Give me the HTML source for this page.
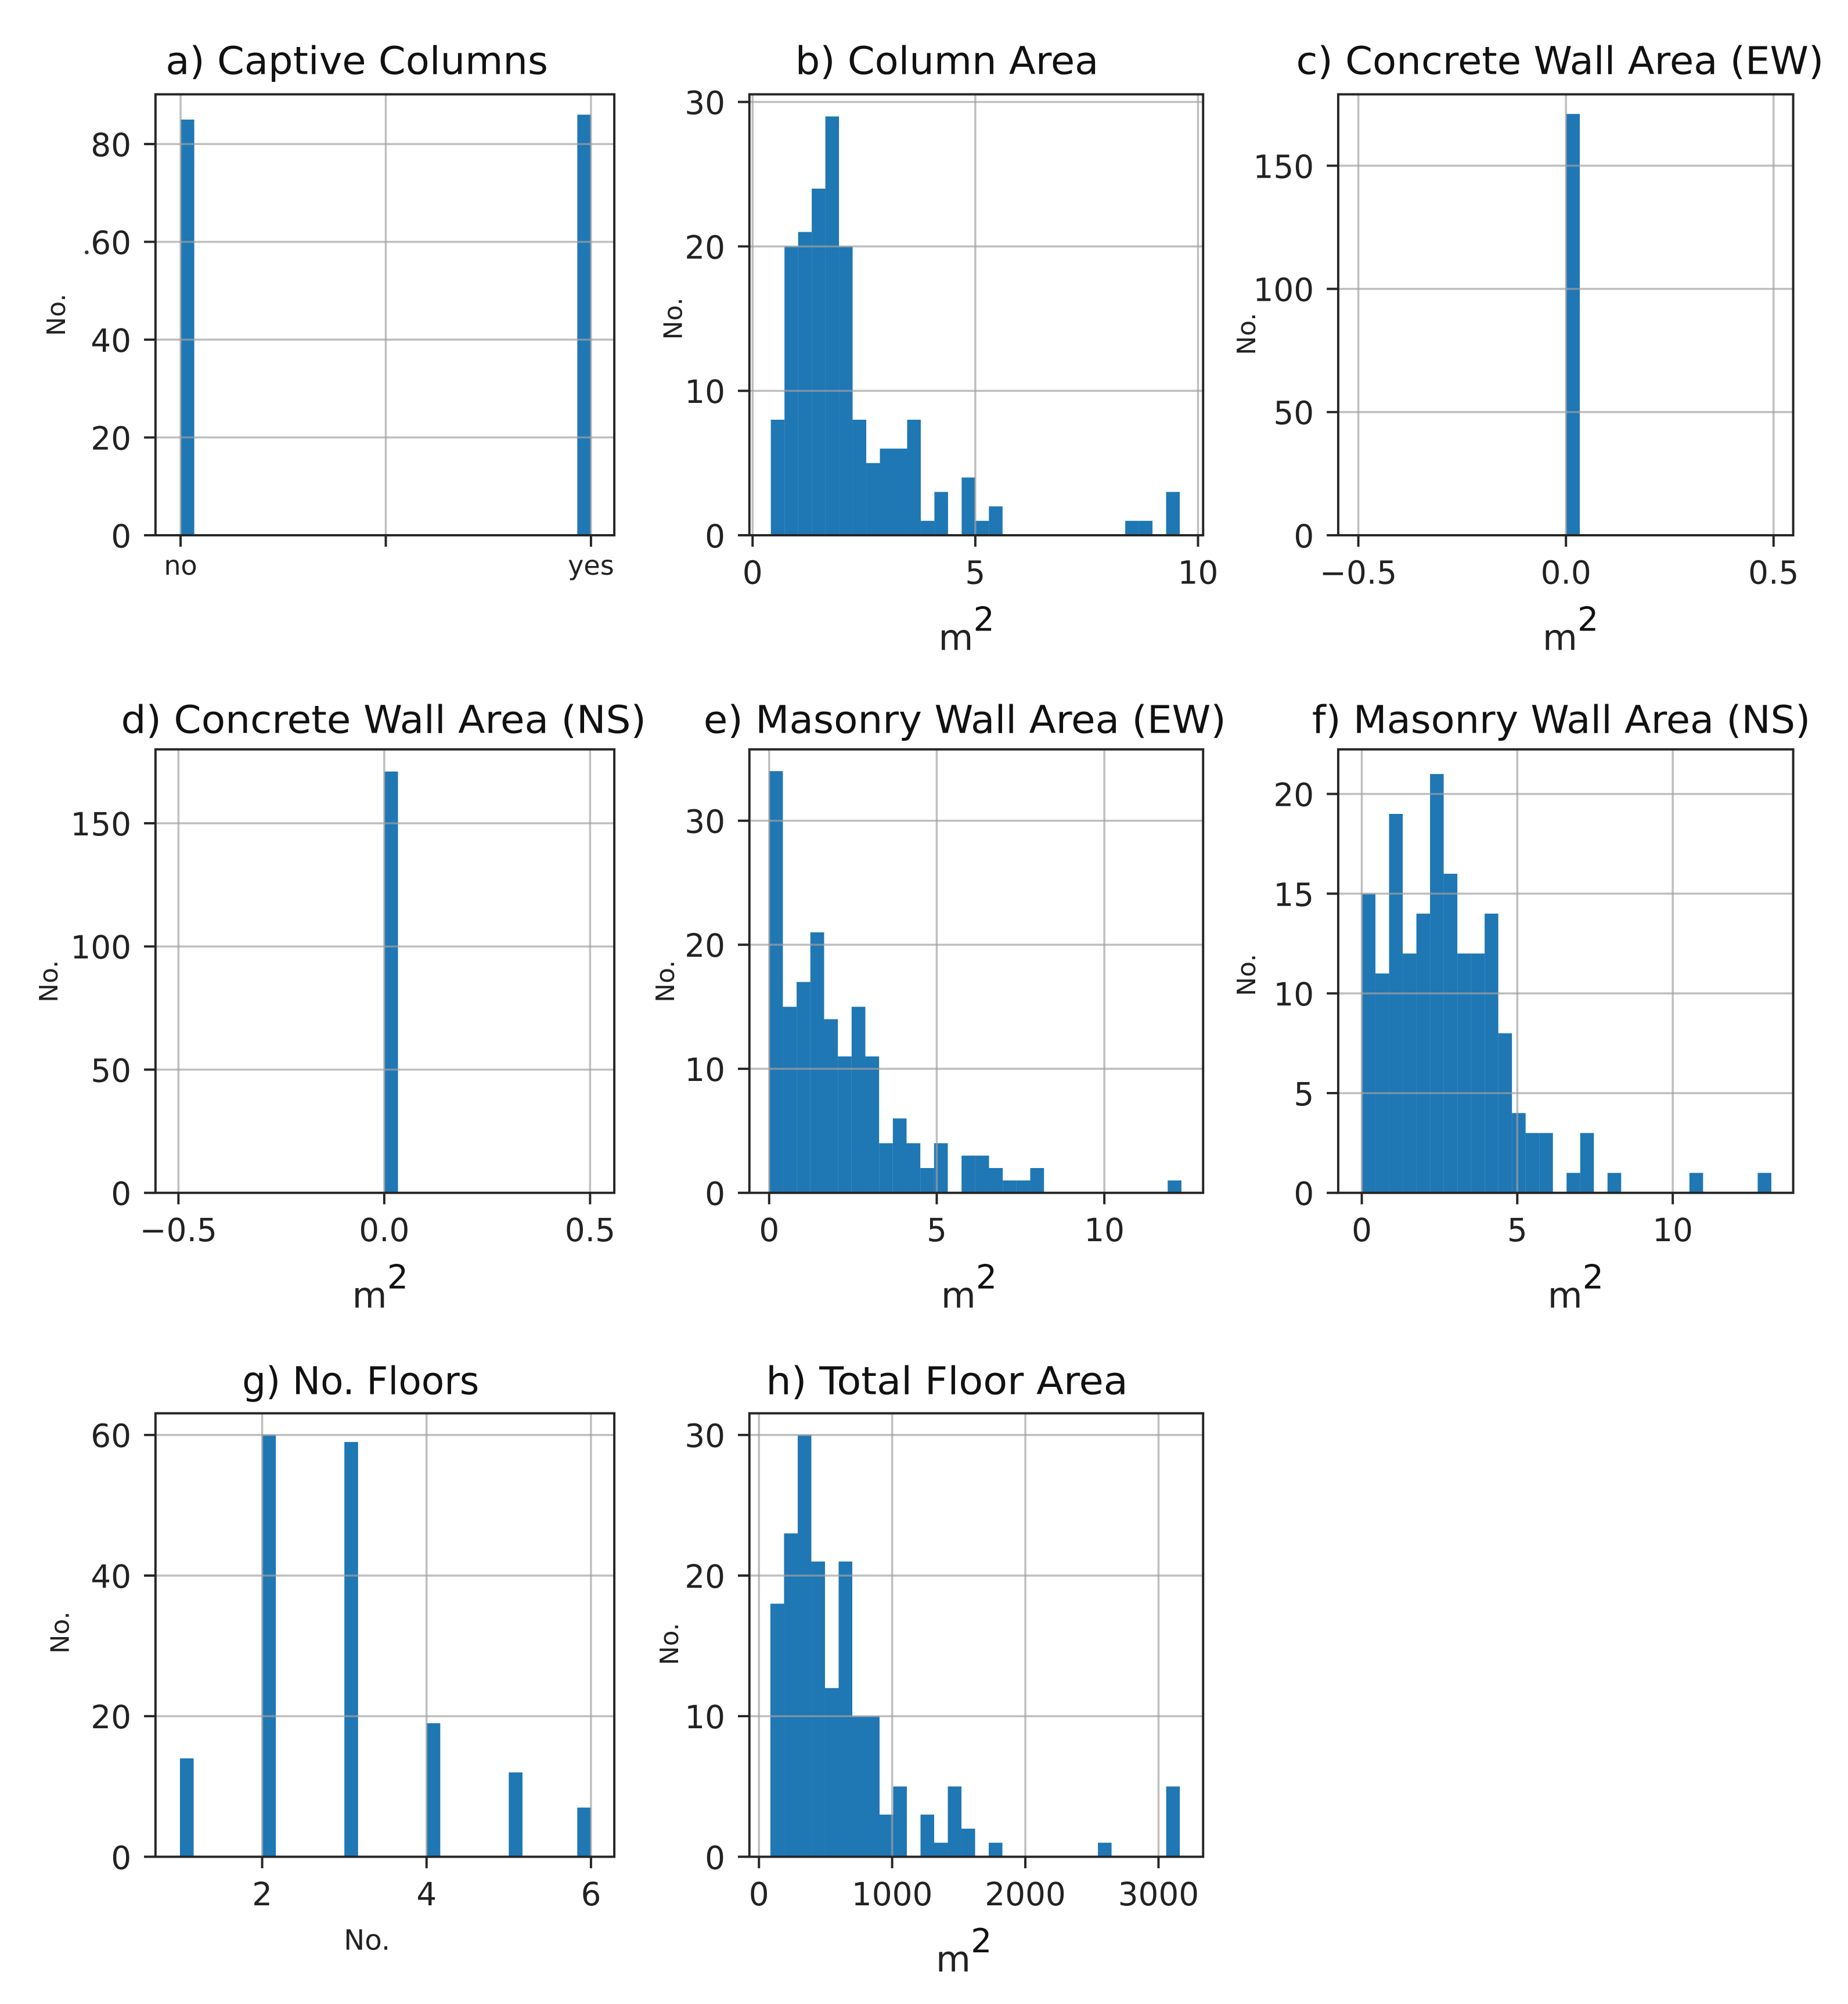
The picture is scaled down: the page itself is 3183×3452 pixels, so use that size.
<!DOCTYPE html>
<html><head><meta charset="utf-8"><title>Building histograms</title>
<style>html,body{margin:0;padding:0;background:#fff;}svg{display:block;}</style></head>
<body>
<svg id="fig" xmlns="http://www.w3.org/2000/svg" width="3183" height="3452" viewBox="0 0 1450 1572.5" font-family="'DejaVu Sans','Liberation Sans',sans-serif"></svg>
<script>
// ---- data (counts per bin, 30 bins each) ----
const aCounts = [85,0,0,0,0,0,0,0,0,0,0,0,0,0,0,0,0,0,0,0,0,0,0,0,0,0,0,0,0,86];
const bCounts = [8,20,21,24,29,20,8,5,6,6,8,1,3,0,4,1,2,0,0,0,0,0,0,0,0,0,1,1,0,3];
const cCounts = [0,0,0,0,0,0,0,0,0,0,0,0,0,0,0,171,0,0,0,0,0,0,0,0,0,0,0,0,0,0];
const dCounts = [0,0,0,0,0,0,0,0,0,0,0,0,0,0,0,171,0,0,0,0,0,0,0,0,0,0,0,0,0,0];
const eCounts = [34,15,17,21,14,11,15,11,4,6,4,2,4,0,3,3,2,1,1,2,0,0,0,0,0,0,0,0,0,1];
const fCounts = [15,11,19,12,14,21,16,12,12,14,8,4,3,3,0,1,3,0,1,0,0,0,0,0,1,0,0,0,0,1];
const gCounts = [14,0,0,0,0,0,60,0,0,0,0,0,59,0,0,0,0,0,19,0,0,0,0,0,12,0,0,0,0,7];
const hCounts = [18,23,30,21,12,21,10,10,3,5,0,3,1,5,2,0,1,0,0,0,0,0,0,0,1,0,0,0,0,5];
// value ranges of the histograms (min, max of data)
const aRange = [0,1];
const bRange = [0.41,9.59];
const cRange = [-0.5,0.5];
const dRange = [-0.5,0.5];
const eRange = [0,12.3];
const fRange = [0,13.17];
const gRange = [1,6];
const hRange = [86,3160];
// tick values
const aXTicks = [0,0.5,1];
const aXTickLabels = ['no','','yes'];
const aYTicks = [0,20,40,60,80];
const bXTicks = [0,5,10];
const bYTicks = [0,10,20,30];
const cXTicks = [-0.5,0,0.5];
const cXTickLabels = ['\u22120.5','0.0','0.5'];
const cYTicks = [0,50,100,150];
const eXTicks = [0,5,10];
const eYTicks = [0,10,20,30];
const fXTicks = [0,5,10];
const fYTicks = [0,5,10,15,20];
const gXTicks = [2,4,6];
const gYTicks = [0,20,40,60];
const hXTicks = [0,1000,2000,3000];
const hYTicks = [0,10,20,30];
const titles = ['a) Captive Columns','b) Column Area','c) Concrete Wall Area (EW)','d) Concrete Wall Area (NS)','e) Masonry Wall Area (EW)','f) Masonry Wall Area (NS)','g) No. Floors','h) Total Floor Area'];

const NS='http://www.w3.org/2000/svg';
const svg=document.getElementById('fig');
function mk(tag,parent){const e=document.createElementNS(NS,tag);parent.appendChild(e);return e;}
function lin(v0,p0,v1,p1){return v=>p0+(v-v0)*(p1-p0)/(v1-v0);}

const panels=[
 {id:'a',counts:aCounts,range:aRange,frame:[122,74,482,420],xs:lin(0,141.7,1,463.7),ys:lin(0,420,80,113),xt:aXTicks,xl:aXTickLabels,yt:aYTicks,title:titles[0],tx:280,ty:58,tw:300,ylx:44,yly:247,xlab:null,small:true},
 {id:'b',counts:bCounts,range:bRange,frame:[588,74,944,420],xs:lin(0,590.5,10,940),ys:lin(0,420,30,80),xt:bXTicks,yt:bYTicks,title:titles[1],tx:743,ty:58,tw:238,ylx:528,yly:250,xlab:'m',mx:750,my:510},
 {id:'c',counts:cCounts,range:cRange,frame:[1050,74,1407,420],xs:lin(-0.5,1065.8,0.5,1391.6),ys:lin(0,420,150,130),xt:cXTicks,xl:cXTickLabels,yt:cYTicks,title:titles[2],tx:1224,ty:58,tw:414,ylx:978,yly:262,xlab:'m',mx:1224,my:510},
 {id:'d',counts:dCounts,range:dRange,frame:[122,588,482,936],xs:lin(-0.5,140,0.5,463),ys:lin(0,936,150,646),xt:cXTicks,xl:cXTickLabels,yt:cYTicks,title:titles[3],tx:301,ty:575,tw:412,ylx:38,yly:770,xlab:'m',mx:290,my:1026},
 {id:'e',counts:eCounts,range:eRange,frame:[588,588,944,936],xs:lin(0,603.5,10,866.5),ys:lin(0,936,30,644),xt:eXTicks,yt:eYTicks,title:titles[4],tx:757,ty:575,tw:410,ylx:522,yly:770,xlab:'m',mx:752,my:1026},
 {id:'f',counts:fCounts,range:fRange,frame:[1050,588,1407,936],xs:lin(0,1068.5,10,1312.5),ys:lin(0,936,20,623),xt:fXTicks,yt:fYTicks,title:titles[5],tx:1225,ty:575,tw:391,ylx:978,yly:765,xlab:'m',mx:1228,my:1026},
 {id:'g',counts:gCounts,range:gRange,frame:[122,1109,482,1457],xs:lin(2,205.7,6,463.7),ys:lin(0,1457,60,1126),xt:gXTicks,yt:gYTicks,title:titles[6],tx:283,ty:1094,tw:186,ylx:47,yly:1281,xlab:'No.',mx:288,my:1530},
 {id:'h',counts:hCounts,range:hRange,frame:[588,1109,944,1457],xs:lin(0,595.5,3000,909),ys:lin(0,1457,30,1126),xt:hXTicks,yt:hYTicks,title:titles[7],tx:743,ty:1094,tw:284,ylx:525,yly:1290,xlab:'m',mx:748,my:1547}
];

panels.forEach(p=>{
  const g=mk('g',svg);
  
  
  const [x0,y0,x1,y1]=p.frame;
  // bars
  const bars=mk('g',g);
  
  
  const n=p.counts.length, w=(p.range[1]-p.range[0])/n;
  p.counts.forEach((c,i)=>{
    if(c<=0) return;
    const l=p.xs(p.range[0]+i*w), r=p.xs(p.range[0]+(i+1)*w);
    const t=p.ys(c), b=p.ys(0);
    const rc=mk('rect',bars);
    
    
    rc.setAttribute('x',l);rc.setAttribute('y',t);rc.setAttribute('width',r-l);rc.setAttribute('height',b-t);
    rc.setAttribute('fill','#1f77b4');
  });
  // grid
  const grid=mk('g',g);
  
  
  grid.setAttribute('stroke','#a0a0a0');grid.setAttribute('stroke-opacity','0.68');grid.setAttribute('stroke-width','1.6');
  p.xt.forEach(v=>{const x=p.xs(v);const ln=mk('line',grid);ln.setAttribute('x1',x);ln.setAttribute('x2',x);ln.setAttribute('y1',y0);ln.setAttribute('y2',y1);});
  p.yt.forEach(v=>{const y=p.ys(v);const ln=mk('line',grid);ln.setAttribute('x1',x0);ln.setAttribute('x2',x1);ln.setAttribute('y1',y);ln.setAttribute('y2',y);});
  // frame
  const fr=mk('rect',g);
  
  
  fr.setAttribute('x',x0);fr.setAttribute('y',y0);fr.setAttribute('width',x1-x0);fr.setAttribute('height',y1-y0);
  fr.setAttribute('fill','none');fr.setAttribute('stroke','#262626');fr.setAttribute('stroke-width','1.8');
  // ticks + labels
  p.xt.forEach((v,i)=>{
    const x=p.xs(v);
    const tk=mk('line',g);
    
    
    tk.setAttribute('x1',x);tk.setAttribute('x2',x);tk.setAttribute('y1',y1);tk.setAttribute('y2',y1+9);tk.setAttribute('stroke','#262626');tk.setAttribute('stroke-width','1.8');
    const lab=p.xl?p.xl[i]:String(v);
    if(!lab) return;
    const t=mk('text',g);
    
    
    t.setAttribute('x',x);t.setAttribute('y',p.small?y1+31:y1+38);
    t.setAttribute('text-anchor','middle');t.setAttribute('font-size',p.small?'21':'25');t.setAttribute('fill','#222');
    t.textContent=lab;
  });
  p.yt.forEach(v=>{
    const y=p.ys(v);
    const tk=mk('line',g);
    
    
    tk.setAttribute('x1',x0-9);tk.setAttribute('x2',x0);tk.setAttribute('y1',y);tk.setAttribute('y2',y);tk.setAttribute('stroke','#262626');tk.setAttribute('stroke-width','1.8');
    const t=mk('text',g);
    
    
    t.setAttribute('x',x0-19);t.setAttribute('y',y+9.5);
    t.setAttribute('text-anchor','end');t.setAttribute('font-size','25');t.setAttribute('fill','#222');
    t.textContent=String(v);
  });
  // title
  const tt=mk('text',g);
  
  
  tt.setAttribute('x',p.tx);tt.setAttribute('y',p.ty);tt.setAttribute('text-anchor','middle');
  tt.setAttribute('font-size','30');tt.setAttribute('fill','#111');
  tt.setAttribute('textLength',p.tw);tt.setAttribute('lengthAdjust','spacingAndGlyphs');
  tt.textContent=p.title;
  // y label
  const yl=mk('text',g);
  
  
  yl.setAttribute('transform','translate('+(p.ylx+7)+','+p.yly+') rotate(-90)');
  yl.setAttribute('text-anchor','middle');yl.setAttribute('font-size','20');yl.setAttribute('fill','#222');
  yl.textContent='No.';
  // x label
  if(p.xlab){
    const xl=mk('text',g);
    
    
    xl.setAttribute('x',p.mx);xl.setAttribute('y',p.my);xl.setAttribute('text-anchor','middle');
    xl.setAttribute('font-size',p.xlab==='m'?'28':'22');xl.setAttribute('fill','#222');
    xl.textContent=p.xlab;
    if(p.xlab==='m'){
      const sp=mk('text',g);
      
      
      sp.setAttribute('x',p.mx+22);sp.setAttribute('y',p.my-15);sp.setAttribute('text-anchor','middle');
      sp.setAttribute('font-size','26');sp.setAttribute('fill','#111');
      sp.textContent='2';
    }
  }
});
// stray dot near a) 60 label
const dot=mk('circle',svg);


dot.setAttribute('cx','68');dot.setAttribute('cy','198');dot.setAttribute('r','1.5');dot.setAttribute('fill','#333');
</script>
</body></html>
